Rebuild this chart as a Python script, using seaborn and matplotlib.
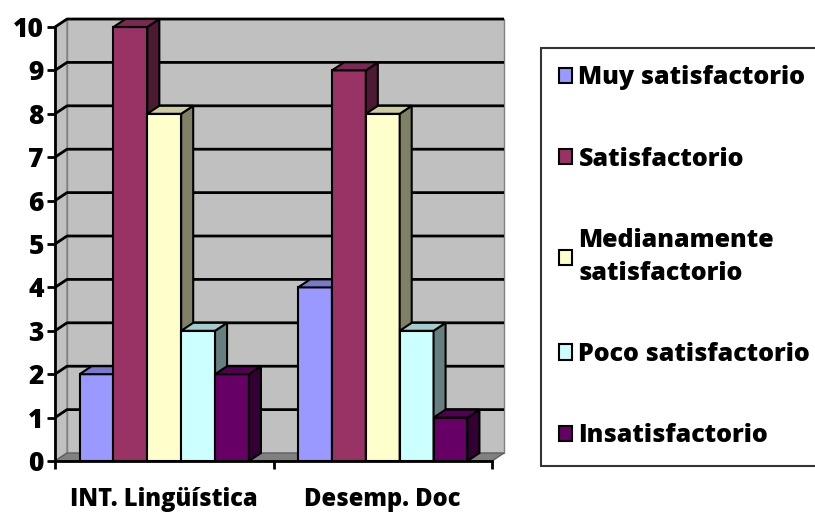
import numpy as np
import pandas as pd
import seaborn as sns
import matplotlib.pyplot as plt
from matplotlib.patches import Polygon
from matplotlib.colors import to_rgb

plt.rcParams['font.family'] = ['Open Sans', 'DejaVu Sans']
plt.rcParams['font.weight'] = 'bold'

categories = ["INT. Lingüística", "Desemp. Doc"]
levels = ["Muy satisfactorio", "Satisfactorio", "Medianamente satisfactorio",
          "Poco satisfactorio", "Insatisfactorio"]
muy_sat = [2, 4]
sat = [10, 9]
mediana = [8, 8]
poco = [3, 3]
insat = [2, 1]
colors = ["#9999FF", "#993366", "#FFFFCC", "#CCFFFF", "#660066"]

values = [muy_sat, sat, mediana, poco, insat]
df = pd.DataFrame({
    "cat": [c for v in values for c in categories],
    "nivel": [lvl for lvl, v in zip(levels, values) for _ in v],
    "valor": [x for v in values for x in v],
})

fig = plt.figure(figsize=(8.15, 5.13), dpi=100)
ax = fig.add_axes([55/815, 52/513, 437/815, 434/513])

sns.barplot(data=df, x="cat", y="valor", hue="nivel", hue_order=levels,
            order=categories, palette=colors, width=0.775, gap=0,
            edgecolor="black", linewidth=1.5, saturation=1, ax=ax)

# bars drawn by seaborn, in left-to-right order
bars = sorted([p for cont in ax.containers for p in cont], key=lambda p: p.get_x())

ax.set_xlim(-0.5, 1.5)
ax.set_ylim(0, 10)
ymax = 10
x0, x1 = -0.5, 1.5
dx, dy = 0.055, 0.184

# walls (pseudo 3D)
wall = "#C0C0C0"
ax.add_patch(Polygon([(x0 + dx, dy), (x1 + dx, dy), (x1 + dx, ymax + dy), (x0 + dx, ymax + dy)],
                     closed=True, fc=wall, ec="#808080", lw=1, zorder=0, clip_on=False))
ax.add_patch(Polygon([(x0, 0), (x0 + dx, dy), (x0 + dx, ymax + dy), (x0, ymax)],
                     closed=True, fc=wall, ec="#808080", lw=1, zorder=0, clip_on=False))
ax.add_patch(Polygon([(x0, 0), (x0 + dx, dy), (x1 + dx, dy), (x1, 0)],
                     closed=True, fc="#808080", ec="#606060", lw=1, zorder=0.5, clip_on=False))
for y in range(1, ymax + 1):
    ax.plot([x0, x0 + dx, x1 + dx], [y, y + dy, y + dy], color="black", lw=2,
            zorder=1, clip_on=False, solid_capstyle="butt")


def shade(c, f):
    r, g, b = to_rgb(c)
    return (r * f, g * f, b * f)


for k, p in enumerate(bars):
    z = 3 + k * 0.1
    p.set_zorder(z)
    p.set_clip_on(False)
    bx, w, h = p.get_x(), p.get_width(), p.get_height()
    c = p.get_facecolor()[:3]
    side = Polygon([(bx + w, 0), (bx + w + dx, dy), (bx + w + dx, h + dy), (bx + w, h)],
                   closed=True, fc=shade(c, 0.5), ec="black", lw=1.5, zorder=z + 0.05,
                   clip_on=False)
    top = Polygon([(bx, h), (bx + dx, h + dy), (bx + w + dx, h + dy), (bx + w, h)],
                  closed=True, fc=shade(c, 0.8), ec="black", lw=1.5, zorder=z + 0.05,
                  clip_on=False)
    ax.add_patch(side)
    ax.add_patch(top)

# axes styling
for s in ["top", "right"]:
    ax.spines[s].set_visible(False)
ax.spines["left"].set_linewidth(2)
ax.spines["bottom"].set_linewidth(2)
ax.spines["left"].set_zorder(5)
ax.spines["bottom"].set_zorder(5)
ax.set_yticks(range(0, 11))
ax.tick_params(axis="y", length=6, width=2, labelsize=19, pad=2)
ax.set_xticks([-0.5, 0.5, 1.5], minor=True)
ax.tick_params(axis="x", which="minor", length=6, width=2)
ax.tick_params(axis="x", which="major", length=0, labelsize=17, pad=19)
ax.set_xticks([0, 1])
ax.set_xticklabels(categories, fontweight="heavy")
for t in ax.get_yticklabels():
    t.set_fontweight("heavy")
ax.set_xlabel("")
ax.set_ylabel("")
ax.set_facecolor("none")

handles, labels = ax.get_legend_handles_labels()
for hnd in handles:
    hnd.set_edgecolor("black")
    hnd.set_linewidth(1.5)
labels = [l.replace("Medianamente ", "Medianamente\n") for l in labels]
leg = ax.legend(handles, labels, loc="upper left", bbox_to_anchor=(541/815, 1 - 48/513),
                bbox_transform=fig.transFigure, frameon=True, fancybox=False,
                edgecolor="black", fontsize=18, handlelength=0.55, handleheight=0.55,
                handletextpad=0.25, labelspacing=2.25, borderpad=0.7, borderaxespad=0)
leg.get_frame().set_linewidth(1.5)
for t in leg.get_texts():
    t.set_fontweight("heavy")
    t.set_linespacing(1.4)

fig.savefig("out.png", dpi=100)
